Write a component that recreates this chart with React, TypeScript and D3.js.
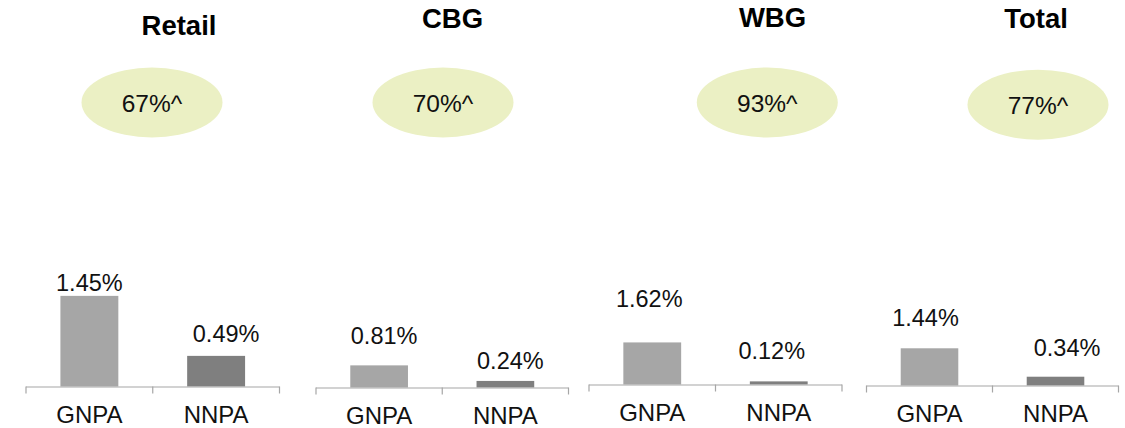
import React from "react";
import * as d3 from "d3";

// ---- data ----
const segments = ["Retail", "CBG", "WBG", "Total"];
const categories = ["GNPA", "NNPA"];
const gnpaValues = [1.45, 0.81, 1.62, 1.44];
const nnpaValues = [0.49, 0.24, 0.12, 0.34];
const coverageLabels = ["67%^", "70%^", "93%^", "77%^"];

// ---- layout (positions/styles) ----
const W = 1125;
const H = 428;
const PLOT_H = 100;
const LAYOUT = [
  { x0: 26, x1: 279.5, axisY: 386.5, yMax: 1.6, titleX: 179, titleY: 34.5, ellX: 152, ellY: 102.5 },
  { x0: 316, x1: 568.5, axisY: 387.5, yMax: 3.66, titleX: 452.5, titleY: 28, ellX: 443, ellY: 102.5 },
  { x0: 589, x1: 842, axisY: 384.5, yMax: 3.85, titleX: 772.5, titleY: 26.5, ellX: 767.3, ellY: 102.5 },
  { x0: 866.5, x1: 1118.5, axisY: 385.5, yMax: 3.87, titleX: 1036, titleY: 28.3, ellX: 1038, ellY: 104.7 },
];
// manual data-label nudges (dx from bar centre, dy from bar top to baseline)
const LABEL_NUDGE = [
  [[0, -5], [10, -13.4]],
  [[5, -21.7], [5, -11.7]],
  [[-3, -35], [-7, -22.4]],
  [[-4, -22], [11.6, -21]],
];
const BAR_COLORS = ["#a6a6a6", "#7f7f7f"];
const FONT = "'Liberation Sans', Arial, Helvetica, sans-serif";

export default function App() {
  return (
    <svg
      width={W}
      height={H}
      style={{ position: "absolute", left: 0, top: 0, background: "#fff" }}
      fontFamily={FONT}
    >
      {segments.map((seg, i) => {
        const L = LAYOUT[i];
        const values = [gnpaValues[i], nnpaValues[i]];
        const x = d3
          .scaleBand<string>()
          .domain(categories)
          .range([L.x0, L.x1])
          .paddingInner(0.543)
          .paddingOuter(0.2715);
        const y = d3.scaleLinear().domain([0, L.yMax]).range([L.axisY, L.axisY - PLOT_H]);
        const step = x.step();
        const tickXs = [L.x0, L.x0 + step, L.x1];
        return (
          <g key={seg}>
            <text
              x={L.titleX}
              y={L.titleY}
              textAnchor="middle"
              fontWeight="bold"
              fontSize={27.5}
              fill="#000"
            >
              {seg}
            </text>
            <ellipse cx={L.ellX} cy={L.ellY} rx={70.5} ry={35} fill="#ebf0c4" />
            <text x={L.ellX} y={L.ellY + 9} textAnchor="middle" fontSize={24.5} fill="#111">
              {coverageLabels[i]}
            </text>
            {categories.map((c, j) => {
              const bx = x(c) as number;
              const bw = x.bandwidth();
              const top = y(values[j]);
              const [dx, dy] = LABEL_NUDGE[i][j];
              return (
                <g key={c}>
                  <rect x={bx} y={top} width={bw} height={L.axisY - top} fill={BAR_COLORS[j]} />
                  <text
                    x={bx + bw / 2 + dx}
                    y={top + dy}
                    textAnchor="middle"
                    fontSize={23.5}
                    fill="#111"
                  >
                    {values[j].toFixed(2) + "%"}
                  </text>
                  <text
                    x={bx + bw / 2}
                    y={L.axisY + 36.5}
                    textAnchor="middle"
                    fontSize={24}
                    fill="#111"
                  >
                    {c}
                  </text>
                </g>
              );
            })}
            <line x1={L.x0} x2={L.x1} y1={L.axisY + 0.5} y2={L.axisY + 0.5} stroke="#a6a6a6" strokeWidth={1.2} />
            {tickXs.map((tx, k) => (
              <line
                key={k}
                x1={tx}
                x2={tx}
                y1={L.axisY}
                y2={L.axisY + 7}
                stroke="#a6a6a6"
                strokeWidth={1.2}
              />
            ))}
          </g>
        );
      })}
    </svg>
  );
}
